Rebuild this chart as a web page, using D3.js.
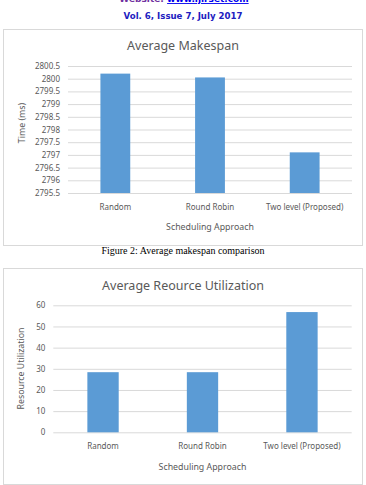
<!DOCTYPE html>
<html>
<head>
<meta charset="utf-8">
<script src="https://cdn.jsdelivr.net/npm/d3@7"></script>
<style>
  body { margin: 0; background: #fff; }
  svg { display: block; }
</style>
</head>
<body>
<div id="page"></div>
<script>
// categories and values
const approaches = ["Random", "Round Robin", "Two level (Proposed)"];
const makespanValues = [2800.2, 2800.05, 2797.1];
const makespanTicks = [2795.5, 2796, 2796.5, 2797, 2797.5, 2798, 2798.5, 2799, 2799.5, 2800, 2800.5];
const utilValues = [28.4, 28.4, 56.8];
const utilTicks = [0, 10, 20, 30, 40, 50, 60];

const svg = d3.select("#page")
  .append("svg")
    .attr("width", 366)
    .attr("height", 485);

svg.append("rect").attr("width", 366).attr("height", 485).attr("fill", "#fff");

// journal header (top line partly cut off)
const head = svg.append("text")
  .attr("x", 184)
  .attr("y", 2)
  .attr("text-anchor", "middle")
  .style("font-family", "DejaVu Sans")
  .style("font-weight", "bold")
  .style("font-size", "9px");
head.append("tspan").attr("fill", "#7030a0").text("Website: ");
head.append("tspan").attr("fill", "#0000ee").style("text-decoration", "underline").text("www.ijirset.com");

svg.append("text")
  .attr("x", 183)
  .attr("y", 19)
  .attr("text-anchor", "middle")
  .attr("fill", "#2020c0")
  .style("font-family", "DejaVu Sans")
  .style("font-weight", "bold")
  .style("font-size", "8.6px")
  .text("Vol. 6, Issue 7, July 2017");

function barChart(opt) {
  const g = svg.append("g");

  g.append("rect")
    .attr("x", 3.5).attr("y", opt.top + 0.5)
    .attr("width", 359).attr("height", opt.boxHeight)
    .attr("fill", "#fff")
    .attr("stroke", "#d9d9d9");

  const x = d3.scaleBand()
    .range([opt.left, opt.right])
    .domain(opt.categories)
    .paddingInner(0.685)
    .paddingOuter(0.3425);

  const y = d3.scaleLinear()
    .domain(opt.domain)
    .range([opt.bottom, opt.plotTop]);

  // gridlines + tick labels
  const yAxis = g.append("g")
    .attr("transform", `translate(${opt.left},0)`)
    .call(d3.axisLeft(y).tickValues(opt.ticks).tickSize(-(opt.right - opt.left)).tickPadding(8).tickFormat(d => String(d)));
  yAxis.select(".domain").remove();
  yAxis.selectAll("line").attr("stroke", "#d9d9d9").attr("stroke-width", 1);
  yAxis.selectAll("text")
    .attr("fill", "#595959")
    .style("font-family", "Noto Sans")
    .style("font-size", "8px");

  // bars
  g.selectAll("rect.bar")
    .data(opt.values)
    .join("rect")
      .attr("class", "bar")
      .attr("x", (d, i) => x(opt.categories[i]))
      .attr("y", d => y(d))
      .attr("width", x.bandwidth())
      .attr("height", d => opt.bottom - y(d))
      .attr("fill", "#5b9bd5");

  // category labels
  const xAxis = g.append("g")
    .attr("transform", `translate(0,${opt.bottom})`)
    .call(d3.axisBottom(x).tickSize(0).tickPadding(11));
  xAxis.select(".domain").remove();
  xAxis.selectAll("text")
    .attr("fill", "#595959")
    .style("font-family", "Noto Sans")
    .style("font-size", "8px");

  // title
  g.append("text")
    .attr("x", 183)
    .attr("y", opt.titleY)
    .attr("text-anchor", "middle")
    .attr("fill", "#595959")
    .style("font-family", "Noto Sans")
    .style("font-size", "12.5px")
    .text(opt.title);

  // x axis title
  g.append("text")
    .attr("x", (opt.left + opt.right) / 2)
    .attr("y", opt.xTitleY)
    .attr("text-anchor", "middle")
    .attr("fill", "#595959")
    .style("font-family", "Noto Sans")
    .style("font-size", "8.8px")
    .text("Scheduling Approach");

  // y axis title
  g.append("text")
    .attr("transform", `translate(${opt.yTitleX},${opt.yTitleY}) rotate(-90)`)
    .attr("text-anchor", "middle")
    .attr("fill", "#595959")
    .style("font-family", "Noto Sans")
    .style("font-size", "8.8px")
    .text(opt.yLabel);
}

barChart({
  top: 29, boxHeight: 216,
  left: 68, right: 352, plotTop: 66, bottom: 193,
  categories: approaches, values: makespanValues,
  domain: [2795.5, 2800.5], ticks: makespanTicks,
  title: "Average Makespan", titleY: 50,
  xTitleY: 230, yTitleX: 25, yTitleY: 123,
  yLabel: "Time (ms)"
});

svg.append("text")
  .attr("x", 183)
  .attr("y", 254)
  .attr("text-anchor", "middle")
  .attr("fill", "#000")
  .style("font-family", "Liberation Serif")
  .style("font-size", "10px")
  .text("Figure 2: Average makespan comparison");

barChart({
  top: 268, boxHeight: 216,
  left: 53.3, right: 351.7, plotTop: 305.3, bottom: 432.3,
  categories: approaches, values: utilValues,
  domain: [0, 60], ticks: utilTicks,
  title: "Average Reource Utilization", titleY: 289.5,
  xTitleY: 469.5, yTitleX: 24, yTitleY: 368.5,
  yLabel: "Resource Utilization"
});
</script>
</body>
</html>
